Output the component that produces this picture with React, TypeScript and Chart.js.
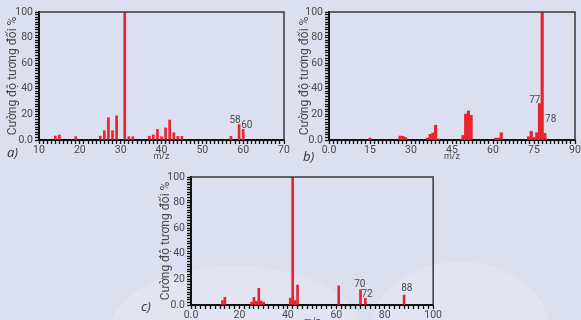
import React, { useEffect, useRef } from "react";
import { Chart, registerables } from "chart.js";
Chart.register(...registerables);

// ---------- data ----------
// a) spectrum
const aMz = [14, 15, 19, 25, 26, 27, 28, 29, 31, 32, 33, 37, 38, 39, 40, 41, 42, 43, 44, 45, 57, 59, 60];
const aInt = [3.1, 3.9, 2.6, 3, 7.3, 17.4, 7.3, 18.8, 100, 2.6, 2.6, 3, 4, 8.3, 2.6, 9.4, 15.6, 5.7, 2.9, 2.9, 2.9, 12, 8.3];
const aNoteText = ["58", "60"];
const aNoteMz = [58, 60.9];
const aNoteInt = [13, 9.6];

// b) spectrum
const bMz = [15, 26, 27, 28, 36, 37, 38, 39, 40, 49, 50, 51, 52, 61, 62, 63, 73, 74, 75, 76, 77, 78, 79];
const bInt = [1.5, 3.1, 2.9, 2, 1.5, 4.4, 5.5, 11.5, 0.8, 3.6, 20.3, 22.7, 19.3, 1.5, 1.5, 5.7, 2.6, 6.8, 2, 5.7, 28.4, 100, 5.2];
const bNoteText = ["77", "78"];
const bNoteMz = [75.3, 81.1];
const bNoteInt = [29.1, 13.8];

// c) spectrum
const cMz = [13, 14, 25, 26, 27, 28, 29, 30, 41, 42, 43, 44, 61, 70, 72, 88];
const cInt = [3.4, 6, 2.3, 6, 2.9, 13, 3, 2.3, 5.5, 100, 3.4, 15.6, 15, 12, 5.2, 7.8];
const cNoteText = ["70", "72", "88"];
const cNoteMz = [69.7, 72.7, 89.1];
const cNoteInt = [14.3, 6.5, 11.2];

const yTitle = "Cường độ tương đối %";
const xTitle = "m/z";

const BG = "#dcdff0";
const RED = "#e8242e";
const INK = "#4a4a4a";
const AXIS = "#111111";

type Props = {
  mz: number[];
  val: number[];
  noteText: string[];
  noteMz: number[];
  noteInt: number[];
  xMin: number;
  xMax: number;
  xStep: number;
  xEvery: number;
  bar: number;
  left: number;
  top: number;
  w: number;
  h: number;
  padTop: number;
  padRight: number;
  yAxisW: number;
  xAxisH: number;
  yTitlePad: number;
};

const framePlugin = {
  id: "frame",
  afterDraw(chart: any) {
    const { ctx, chartArea } = chart;
    ctx.save();
    ctx.strokeStyle = "#3a3a3a";
    ctx.lineWidth = 1.5;
    ctx.beginPath();
    ctx.moveTo(chartArea.left, chartArea.top);
    ctx.lineTo(chartArea.right, chartArea.top);
    ctx.lineTo(chartArea.right, chartArea.bottom);
    ctx.stroke();
    ctx.restore();
  },
};

function Spectrum(p: Props) {
  const ref = useRef<HTMLCanvasElement>(null);
  useEffect(() => {
    const notesPlugin = {
      id: "notes",
      afterDatasetsDraw(chart: any) {
        const { ctx } = chart;
        const xs = chart.scales.x;
        const ys = chart.scales.y;
        ctx.save();
        ctx.font = "10px Roboto";
        ctx.fillStyle = INK;
        ctx.textAlign = "center";
        ctx.textBaseline = "alphabetic";
        p.noteText.forEach((t, i) => {
          ctx.fillText(t, xs.getPixelForValue(p.noteMz[i]), ys.getPixelForValue(p.noteInt[i]));
        });
        ctx.restore();
      },
    };
    const chart = new Chart(ref.current as HTMLCanvasElement, {
      type: "bar",
      data: {
        datasets: [
          {
            data: p.mz.map((m, i) => ({ x: m, y: p.val[i] })),
            backgroundColor: RED,
            borderWidth: 0,
            barThickness: p.bar,
          } as any,
        ],
      },
      options: {
        animation: false,
        responsive: false,
        maintainAspectRatio: false,
        layout: { padding: { left: 0, top: p.padTop, right: p.padRight, bottom: 0 } },
        plugins: { legend: { display: false }, tooltip: { enabled: false } },
        scales: {
          x: {
            type: "linear",
            min: p.xMin,
            max: p.xMax,
            offset: false,
            ticks: {
              stepSize: p.xStep,
              autoSkip: false,
              maxRotation: 0,
              padding: 0,
              color: INK,
              font: { size: 10.5, family: "Roboto" },
              callback: (v: any) => {
                const r = Math.round(v);
                if (Math.abs(v - r) > 1e-6) return "";
                if (r % p.xEvery !== 0) return "";
                return r === 0 ? "0.0" : String(r);
              },
            },
            grid: { drawOnChartArea: false, tickLength: 4, tickWidth: 1.3, tickColor: AXIS, color: AXIS, offset: false },
            border: { display: true, color: AXIS, width: 2 },
            title: {
              display: true,
              text: xTitle,
              color: INK,
              font: { size: 9, family: "Roboto" },
              padding: { top: 0, bottom: 3 },
            },
            afterFit: (s: any) => {
              s.height = p.xAxisH;
            },
          } as any,
          y: {
            min: 0,
            max: 100,
            ticks: {
              stepSize: 2,
              autoSkip: false,
              padding: 2,
              color: INK,
              font: { size: 10.5, family: "Roboto" },
              callback: (v: any) => (v === 0 ? "0.0" : v % 20 === 0 ? String(v) : ""),
            },
            grid: { drawOnChartArea: false, tickLength: 4, tickWidth: 1.3, tickColor: AXIS, color: AXIS },
            border: { display: true, color: AXIS, width: 2 },
            title: {
              display: true,
              text: yTitle,
              color: INK,
              font: { size: 12, family: "Roboto" },
              padding: { top: p.yTitlePad, bottom: 0 },
            },
            afterFit: (s: any) => {
              s.width = p.yAxisW;
            },
          } as any,
        },
      },
      plugins: [framePlugin, notesPlugin],
    });
    return () => chart.destroy();
  }, []);
  return (
    <canvas
      ref={ref}
      width={p.w}
      height={p.h}
      style={{ position: "absolute", left: p.left, top: p.top, width: p.w, height: p.h }}
    />
  );
}

const panelLabel: React.CSSProperties = {
  position: "absolute",
  fontFamily: "'Open Sans', sans-serif",
  fontStyle: "italic",
  fontSize: 13,
  color: "#333",
  lineHeight: "14px",
};

const glow: React.CSSProperties = {
  position: "absolute",
  borderRadius: "50%",
  background: "rgba(255,255,255,0.18)",
};

export default function App() {
  return (
    <div
      style={{
        position: "fixed",
        left: 0,
        top: 0,
        width: 581,
        height: 320,
        background: BG,
        overflow: "hidden",
      }}
    >
      <div style={{ ...glow, left: 110, top: 266, width: 250, height: 130 }} />
      <div style={{ ...glow, left: 370, top: 262, width: 180, height: 140 }} />
      <Spectrum
        mz={aMz} val={aInt} noteText={aNoteText} noteMz={aNoteMz} noteInt={aNoteInt}
        xMin={10} xMax={70} xStep={1} xEvery={10} bar={2}
        left={0} top={0} w={290} h={165} padTop={12} padRight={6} yAxisW={39} xAxisH={25} yTitlePad={6}
      />
      <Spectrum
        mz={bMz} val={bInt} noteText={bNoteText} noteMz={bNoteMz} noteInt={bNoteInt}
        xMin={0} xMax={90} xStep={1.5} xEvery={15} bar={2.5}
        left={290} top={0} w={291} h={165} padTop={12} padRight={6} yAxisW={39} xAxisH={25} yTitlePad={8}
      />
      <Spectrum
        mz={cMz} val={cInt} noteText={cNoteText} noteMz={cNoteMz} noteInt={cNoteInt}
        xMin={0} xMax={100} xStep={2} xEvery={20} bar={2}
        left={152} top={165} w={290} h={165} padTop={12} padRight={5} yAxisW={39} xAxisH={25} yTitlePad={7}
      />
      <span style={{ ...panelLabel, left: 7, top: 145 }}>a)</span>
      <span style={{ ...panelLabel, left: 303, top: 149 }}>b)</span>
      <span style={{ ...panelLabel, left: 141, top: 299 }}>c)</span>
    </div>
  );
}
